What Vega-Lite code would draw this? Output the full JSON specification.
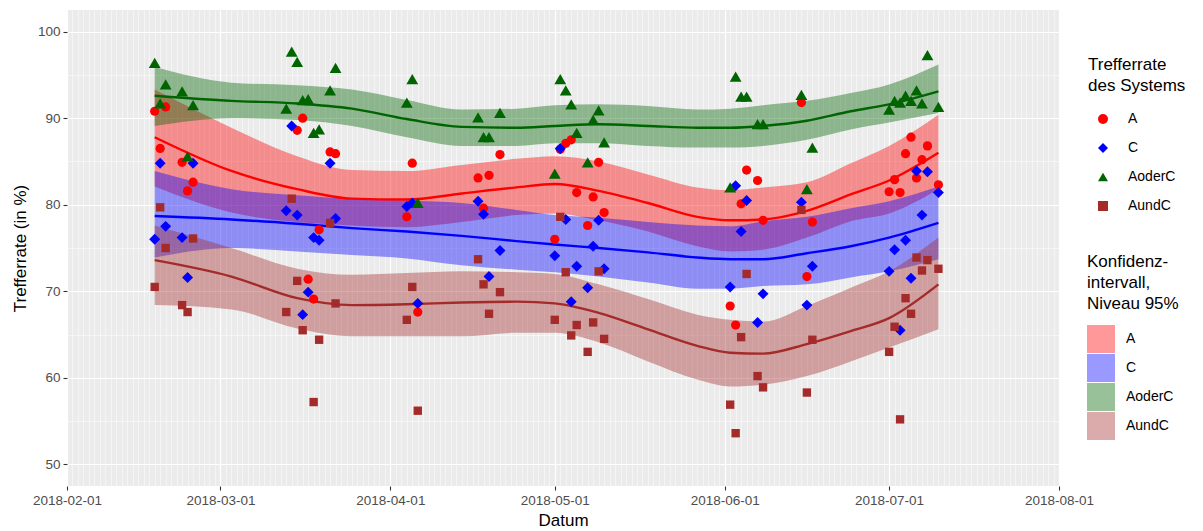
{
  "$schema": "https://vega.github.io/schema/vega-lite/v6.json",
  "width": 992,
  "height": 476,
  "autosize": {"type": "none"},
  "padding": {"left": 67, "top": 10, "right": 144, "bottom": 45},
  "background": "white",
  "view": {"fill": "#EBEBEB", "stroke": null},
  "config": {
    "font": "Liberation Sans",
    "axis": {"labelFont": "Liberation Sans", "labelFontSize": 13.5, "labelColor": "#4D4D4D", "titleFont": "Liberation Sans", "titleFontSize": 17, "titleFontWeight": "normal", "titleColor": "#000000", "tickColor": "#333333", "tickSize": 4, "tickWidth": 1.1, "labelPadding": 3, "domain": false, "gridColor": "#FFFFFF"},
    "legend": {"labelFont": "Liberation Sans", "labelFontSize": 14, "labelColor": "#000000", "titleFont": "Liberation Sans", "titleFontSize": 17, "titleFontWeight": "normal", "titleColor": "#000000", "titleLineHeight": 21, "padding": 0}
  },
  "datasets": {
    "fit": [
      {"k": "A", "d": "2018-02-17", "f": 87.8, "l": 82.1, "h": 93.3},
      {"k": "A", "d": "2018-03-03", "f": 83.9, "l": 79.1, "h": 88.9},
      {"k": "A", "d": "2018-03-15", "f": 81.8, "l": 78.0, "h": 85.6},
      {"k": "A", "d": "2018-03-25", "f": 80.7, "l": 77.6, "h": 84.0},
      {"k": "A", "d": "2018-04-04", "f": 80.6, "l": 77.4, "h": 83.9},
      {"k": "A", "d": "2018-04-14", "f": 81.3, "l": 78.0, "h": 84.6},
      {"k": "A", "d": "2018-04-24", "f": 82.0, "l": 78.8, "h": 85.3},
      {"k": "A", "d": "2018-05-01", "f": 82.4, "l": 79.0, "h": 85.6},
      {"k": "A", "d": "2018-05-09", "f": 81.6, "l": 78.2, "h": 85.0},
      {"k": "A", "d": "2018-05-18", "f": 80.2, "l": 76.9, "h": 83.5},
      {"k": "A", "d": "2018-05-27", "f": 78.6, "l": 75.2, "h": 82.0},
      {"k": "A", "d": "2018-06-02", "f": 78.2, "l": 74.6, "h": 81.7},
      {"k": "A", "d": "2018-06-08", "f": 78.3, "l": 74.8, "h": 82.0},
      {"k": "A", "d": "2018-06-16", "f": 79.3, "l": 76.2, "h": 82.6},
      {"k": "A", "d": "2018-06-24", "f": 81.2, "l": 78.1, "h": 84.8},
      {"k": "A", "d": "2018-07-01", "f": 82.8, "l": 79.0, "h": 86.8},
      {"k": "A", "d": "2018-07-10", "f": 86.0, "l": 81.8, "h": 90.4},
      {"k": "C", "d": "2018-02-17", "f": 78.7, "l": 73.9, "h": 83.9},
      {"k": "C", "d": "2018-03-03", "f": 78.3, "l": 75.0, "h": 81.8},
      {"k": "C", "d": "2018-03-15", "f": 77.8, "l": 74.6, "h": 81.1},
      {"k": "C", "d": "2018-03-25", "f": 77.3, "l": 74.2, "h": 80.7},
      {"k": "C", "d": "2018-04-04", "f": 76.9, "l": 73.8, "h": 80.5},
      {"k": "C", "d": "2018-04-14", "f": 76.4, "l": 73.0, "h": 80.2},
      {"k": "C", "d": "2018-04-24", "f": 75.8, "l": 72.5, "h": 79.4},
      {"k": "C", "d": "2018-05-01", "f": 75.4, "l": 72.2, "h": 78.8},
      {"k": "C", "d": "2018-05-09", "f": 75.0, "l": 71.7, "h": 78.5},
      {"k": "C", "d": "2018-05-18", "f": 74.5, "l": 71.0, "h": 78.0},
      {"k": "C", "d": "2018-05-27", "f": 73.9, "l": 70.3, "h": 77.6},
      {"k": "C", "d": "2018-06-02", "f": 73.7, "l": 70.3, "h": 77.5},
      {"k": "C", "d": "2018-06-08", "f": 73.7, "l": 70.6, "h": 78.1},
      {"k": "C", "d": "2018-06-16", "f": 74.4, "l": 70.8, "h": 78.6},
      {"k": "C", "d": "2018-06-24", "f": 75.2, "l": 71.6, "h": 79.6},
      {"k": "C", "d": "2018-07-01", "f": 76.2, "l": 72.3, "h": 80.4},
      {"k": "C", "d": "2018-07-10", "f": 77.9, "l": 73.7, "h": 82.1},
      {"k": "AoderC", "d": "2018-02-17", "f": 92.6, "l": 89.1, "h": 95.9},
      {"k": "AoderC", "d": "2018-03-03", "f": 92.0, "l": 90.0, "h": 94.1},
      {"k": "AoderC", "d": "2018-03-15", "f": 91.7, "l": 89.8, "h": 93.8},
      {"k": "AoderC", "d": "2018-03-25", "f": 91.1, "l": 89.1, "h": 93.3},
      {"k": "AoderC", "d": "2018-04-04", "f": 89.9, "l": 87.8, "h": 92.1},
      {"k": "AoderC", "d": "2018-04-14", "f": 89.0, "l": 86.8, "h": 91.0},
      {"k": "AoderC", "d": "2018-04-24", "f": 88.9, "l": 86.8, "h": 91.1},
      {"k": "AoderC", "d": "2018-05-01", "f": 89.1, "l": 87.1, "h": 91.5},
      {"k": "AoderC", "d": "2018-05-09", "f": 89.3, "l": 87.1, "h": 91.6},
      {"k": "AoderC", "d": "2018-05-18", "f": 89.1, "l": 86.8, "h": 91.4},
      {"k": "AoderC", "d": "2018-05-27", "f": 88.9, "l": 86.6, "h": 91.0},
      {"k": "AoderC", "d": "2018-06-02", "f": 88.9, "l": 86.6, "h": 91.1},
      {"k": "AoderC", "d": "2018-06-08", "f": 89.1, "l": 86.8, "h": 91.5},
      {"k": "AoderC", "d": "2018-06-16", "f": 89.7, "l": 87.5, "h": 92.0},
      {"k": "AoderC", "d": "2018-06-24", "f": 90.8, "l": 88.7, "h": 92.9},
      {"k": "AoderC", "d": "2018-07-01", "f": 91.6, "l": 89.5, "h": 93.9},
      {"k": "AoderC", "d": "2018-07-10", "f": 93.1, "l": 90.6, "h": 96.2},
      {"k": "AundC", "d": "2018-02-17", "f": 73.6, "l": 68.4, "h": 77.6},
      {"k": "AundC", "d": "2018-03-03", "f": 71.7, "l": 67.9, "h": 75.0},
      {"k": "AundC", "d": "2018-03-15", "f": 69.2, "l": 65.7, "h": 72.6},
      {"k": "AundC", "d": "2018-03-25", "f": 68.4, "l": 64.8, "h": 71.9},
      {"k": "AundC", "d": "2018-04-04", "f": 68.5, "l": 64.8, "h": 72.1},
      {"k": "AundC", "d": "2018-04-14", "f": 68.7, "l": 64.8, "h": 72.3},
      {"k": "AundC", "d": "2018-04-24", "f": 68.8, "l": 65.2, "h": 72.2},
      {"k": "AundC", "d": "2018-05-01", "f": 68.6, "l": 65.2, "h": 72.0},
      {"k": "AundC", "d": "2018-05-09", "f": 67.5, "l": 64.1, "h": 70.8},
      {"k": "AundC", "d": "2018-05-18", "f": 65.6, "l": 61.9, "h": 69.1},
      {"k": "AundC", "d": "2018-05-27", "f": 63.7, "l": 59.8, "h": 67.3},
      {"k": "AundC", "d": "2018-06-02", "f": 62.9, "l": 59.0, "h": 66.7},
      {"k": "AundC", "d": "2018-06-08", "f": 62.8, "l": 59.2, "h": 66.5},
      {"k": "AundC", "d": "2018-06-16", "f": 63.9, "l": 60.2, "h": 68.3},
      {"k": "AundC", "d": "2018-06-24", "f": 65.4, "l": 61.9, "h": 70.4},
      {"k": "AundC", "d": "2018-07-01", "f": 66.9, "l": 63.5, "h": 72.3},
      {"k": "AundC", "d": "2018-07-10", "f": 70.8, "l": 65.6, "h": 76.2}
    ],
    "pts": [
      {"d": "2018-02-17", "s": "A", "v": 90.8}, {"d": "2018-02-18", "s": "A", "v": 86.5}, {"d": "2018-02-19", "s": "A", "v": 91.3},
      {"d": "2018-02-22", "s": "A", "v": 84.9}, {"d": "2018-02-23", "s": "A", "v": 81.6}, {"d": "2018-02-24", "s": "A", "v": 82.6},
      {"d": "2018-03-15", "s": "A", "v": 88.6}, {"d": "2018-03-16", "s": "A", "v": 90.0}, {"d": "2018-03-17", "s": "A", "v": 71.4},
      {"d": "2018-03-18", "s": "A", "v": 69.1}, {"d": "2018-03-19", "s": "A", "v": 77.1}, {"d": "2018-03-21", "s": "A", "v": 86.1},
      {"d": "2018-03-22", "s": "A", "v": 85.9}, {"d": "2018-04-04", "s": "A", "v": 78.6}, {"d": "2018-04-05", "s": "A", "v": 84.8},
      {"d": "2018-04-06", "s": "A", "v": 67.6}, {"d": "2018-04-17", "s": "A", "v": 83.1}, {"d": "2018-04-18", "s": "A", "v": 79.6},
      {"d": "2018-04-19", "s": "A", "v": 83.4}, {"d": "2018-04-21", "s": "A", "v": 85.8}, {"d": "2018-05-01", "s": "A", "v": 76.0},
      {"d": "2018-05-02", "s": "A", "v": 86.4}, {"d": "2018-05-03", "s": "A", "v": 87.1}, {"d": "2018-05-04", "s": "A", "v": 87.5},
      {"d": "2018-05-05", "s": "A", "v": 81.4}, {"d": "2018-05-07", "s": "A", "v": 77.6}, {"d": "2018-05-08", "s": "A", "v": 80.9},
      {"d": "2018-05-09", "s": "A", "v": 84.9}, {"d": "2018-05-10", "s": "A", "v": 79.1}, {"d": "2018-06-02", "s": "A", "v": 68.3},
      {"d": "2018-06-03", "s": "A", "v": 66.1}, {"d": "2018-06-04", "s": "A", "v": 80.1}, {"d": "2018-06-05", "s": "A", "v": 84.0},
      {"d": "2018-06-07", "s": "A", "v": 82.8}, {"d": "2018-06-08", "s": "A", "v": 78.2}, {"d": "2018-06-15", "s": "A", "v": 91.8},
      {"d": "2018-06-16", "s": "A", "v": 71.7}, {"d": "2018-06-17", "s": "A", "v": 78.0}, {"d": "2018-07-01", "s": "A", "v": 81.5},
      {"d": "2018-07-02", "s": "A", "v": 82.9}, {"d": "2018-07-03", "s": "A", "v": 81.4}, {"d": "2018-07-04", "s": "A", "v": 85.9},
      {"d": "2018-07-05", "s": "A", "v": 87.8}, {"d": "2018-07-06", "s": "A", "v": 83.1}, {"d": "2018-07-07", "s": "A", "v": 85.2},
      {"d": "2018-07-08", "s": "A", "v": 86.8}, {"d": "2018-07-10", "s": "A", "v": 82.3},
      {"d": "2018-02-17", "s": "C", "v": 76.0}, {"d": "2018-02-18", "s": "C", "v": 84.8}, {"d": "2018-02-19", "s": "C", "v": 77.5},
      {"d": "2018-02-22", "s": "C", "v": 76.2}, {"d": "2018-02-23", "s": "C", "v": 71.6}, {"d": "2018-02-24", "s": "C", "v": 84.8},
      {"d": "2018-03-13", "s": "C", "v": 79.3}, {"d": "2018-03-14", "s": "C", "v": 89.1}, {"d": "2018-03-15", "s": "C", "v": 78.8},
      {"d": "2018-03-16", "s": "C", "v": 67.3}, {"d": "2018-03-17", "s": "C", "v": 69.9}, {"d": "2018-03-18", "s": "C", "v": 76.2},
      {"d": "2018-03-19", "s": "C", "v": 75.9}, {"d": "2018-03-21", "s": "C", "v": 84.8}, {"d": "2018-03-22", "s": "C", "v": 78.4},
      {"d": "2018-04-04", "s": "C", "v": 79.8}, {"d": "2018-04-05", "s": "C", "v": 80.2}, {"d": "2018-04-06", "s": "C", "v": 68.6},
      {"d": "2018-04-17", "s": "C", "v": 80.4}, {"d": "2018-04-18", "s": "C", "v": 78.9}, {"d": "2018-04-19", "s": "C", "v": 71.7},
      {"d": "2018-04-21", "s": "C", "v": 74.7}, {"d": "2018-05-01", "s": "C", "v": 74.1}, {"d": "2018-05-02", "s": "C", "v": 86.5},
      {"d": "2018-05-03", "s": "C", "v": 78.3}, {"d": "2018-05-04", "s": "C", "v": 68.8}, {"d": "2018-05-05", "s": "C", "v": 72.9},
      {"d": "2018-05-07", "s": "C", "v": 70.4}, {"d": "2018-05-08", "s": "C", "v": 75.2}, {"d": "2018-05-09", "s": "C", "v": 78.2},
      {"d": "2018-05-10", "s": "C", "v": 72.6}, {"d": "2018-06-02", "s": "C", "v": 70.5}, {"d": "2018-06-03", "s": "C", "v": 82.2},
      {"d": "2018-06-04", "s": "C", "v": 76.9}, {"d": "2018-06-05", "s": "C", "v": 80.5}, {"d": "2018-06-07", "s": "C", "v": 66.4},
      {"d": "2018-06-08", "s": "C", "v": 69.7}, {"d": "2018-06-15", "s": "C", "v": 80.3}, {"d": "2018-06-16", "s": "C", "v": 68.4},
      {"d": "2018-06-17", "s": "C", "v": 72.9}, {"d": "2018-07-01", "s": "C", "v": 72.3}, {"d": "2018-07-02", "s": "C", "v": 74.8},
      {"d": "2018-07-03", "s": "C", "v": 65.5}, {"d": "2018-07-04", "s": "C", "v": 75.9}, {"d": "2018-07-05", "s": "C", "v": 71.5},
      {"d": "2018-07-06", "s": "C", "v": 83.9}, {"d": "2018-07-07", "s": "C", "v": 78.8}, {"d": "2018-07-08", "s": "C", "v": 83.8},
      {"d": "2018-07-10", "s": "C", "v": 81.4},
      {"d": "2018-02-17", "s": "AoderC", "v": 96.4}, {"d": "2018-02-18", "s": "AoderC", "v": 91.7}, {"d": "2018-02-19", "s": "AoderC", "v": 93.9},
      {"d": "2018-02-22", "s": "AoderC", "v": 93.1}, {"d": "2018-02-23", "s": "AoderC", "v": 85.6}, {"d": "2018-02-24", "s": "AoderC", "v": 91.5},
      {"d": "2018-03-13", "s": "AoderC", "v": 91.1}, {"d": "2018-03-14", "s": "AoderC", "v": 97.7}, {"d": "2018-03-15", "s": "AoderC", "v": 96.5},
      {"d": "2018-03-16", "s": "AoderC", "v": 92.1}, {"d": "2018-03-17", "s": "AoderC", "v": 92.2}, {"d": "2018-03-18", "s": "AoderC", "v": 88.3},
      {"d": "2018-03-19", "s": "AoderC", "v": 88.7}, {"d": "2018-03-21", "s": "AoderC", "v": 93.2}, {"d": "2018-03-22", "s": "AoderC", "v": 95.8},
      {"d": "2018-04-04", "s": "AoderC", "v": 91.8}, {"d": "2018-04-05", "s": "AoderC", "v": 94.5}, {"d": "2018-04-06", "s": "AoderC", "v": 80.2},
      {"d": "2018-04-17", "s": "AoderC", "v": 90.1}, {"d": "2018-04-18", "s": "AoderC", "v": 87.8}, {"d": "2018-04-19", "s": "AoderC", "v": 87.8},
      {"d": "2018-04-21", "s": "AoderC", "v": 90.6}, {"d": "2018-05-01", "s": "AoderC", "v": 83.6}, {"d": "2018-05-02", "s": "AoderC", "v": 94.5},
      {"d": "2018-05-03", "s": "AoderC", "v": 93.2}, {"d": "2018-05-04", "s": "AoderC", "v": 91.6}, {"d": "2018-05-05", "s": "AoderC", "v": 88.3},
      {"d": "2018-05-07", "s": "AoderC", "v": 84.9}, {"d": "2018-05-08", "s": "AoderC", "v": 89.8}, {"d": "2018-05-09", "s": "AoderC", "v": 90.9},
      {"d": "2018-05-10", "s": "AoderC", "v": 87.2}, {"d": "2018-06-02", "s": "AoderC", "v": 82.0}, {"d": "2018-06-03", "s": "AoderC", "v": 94.8},
      {"d": "2018-06-04", "s": "AoderC", "v": 92.5}, {"d": "2018-06-05", "s": "AoderC", "v": 92.5}, {"d": "2018-06-07", "s": "AoderC", "v": 89.3},
      {"d": "2018-06-08", "s": "AoderC", "v": 89.3}, {"d": "2018-06-15", "s": "AoderC", "v": 92.7}, {"d": "2018-06-16", "s": "AoderC", "v": 81.8},
      {"d": "2018-06-17", "s": "AoderC", "v": 86.6}, {"d": "2018-07-01", "s": "AoderC", "v": 91.0}, {"d": "2018-07-02", "s": "AoderC", "v": 92.0},
      {"d": "2018-07-03", "s": "AoderC", "v": 91.8}, {"d": "2018-07-04", "s": "AoderC", "v": 92.6}, {"d": "2018-07-05", "s": "AoderC", "v": 92.0},
      {"d": "2018-07-06", "s": "AoderC", "v": 93.2}, {"d": "2018-07-07", "s": "AoderC", "v": 91.7}, {"d": "2018-07-08", "s": "AoderC", "v": 97.3},
      {"d": "2018-07-10", "s": "AoderC", "v": 91.3},
      {"d": "2018-02-17", "s": "AundC", "v": 70.5}, {"d": "2018-02-18", "s": "AundC", "v": 79.7}, {"d": "2018-02-19", "s": "AundC", "v": 75.0},
      {"d": "2018-02-22", "s": "AundC", "v": 68.4}, {"d": "2018-02-23", "s": "AundC", "v": 67.6}, {"d": "2018-02-24", "s": "AundC", "v": 76.1},
      {"d": "2018-03-13", "s": "AundC", "v": 67.6}, {"d": "2018-03-14", "s": "AundC", "v": 80.7}, {"d": "2018-03-15", "s": "AundC", "v": 71.2},
      {"d": "2018-03-16", "s": "AundC", "v": 65.5}, {"d": "2018-03-18", "s": "AundC", "v": 57.2}, {"d": "2018-03-19", "s": "AundC", "v": 64.4},
      {"d": "2018-03-21", "s": "AundC", "v": 77.9}, {"d": "2018-03-22", "s": "AundC", "v": 68.6}, {"d": "2018-04-04", "s": "AundC", "v": 66.7},
      {"d": "2018-04-05", "s": "AundC", "v": 70.5}, {"d": "2018-04-06", "s": "AundC", "v": 56.2}, {"d": "2018-04-17", "s": "AundC", "v": 73.7},
      {"d": "2018-04-18", "s": "AundC", "v": 70.8}, {"d": "2018-04-19", "s": "AundC", "v": 67.4}, {"d": "2018-04-21", "s": "AundC", "v": 69.9},
      {"d": "2018-05-01", "s": "AundC", "v": 66.7}, {"d": "2018-05-02", "s": "AundC", "v": 78.6}, {"d": "2018-05-03", "s": "AundC", "v": 72.2},
      {"d": "2018-05-04", "s": "AundC", "v": 64.9}, {"d": "2018-05-05", "s": "AundC", "v": 66.1}, {"d": "2018-05-07", "s": "AundC", "v": 63.0},
      {"d": "2018-05-08", "s": "AundC", "v": 66.4}, {"d": "2018-05-09", "s": "AundC", "v": 72.3}, {"d": "2018-05-10", "s": "AundC", "v": 64.5},
      {"d": "2018-06-02", "s": "AundC", "v": 56.9}, {"d": "2018-06-03", "s": "AundC", "v": 53.6}, {"d": "2018-06-04", "s": "AundC", "v": 64.7},
      {"d": "2018-06-05", "s": "AundC", "v": 72.0}, {"d": "2018-06-07", "s": "AundC", "v": 60.2}, {"d": "2018-06-08", "s": "AundC", "v": 58.9},
      {"d": "2018-06-15", "s": "AundC", "v": 79.4}, {"d": "2018-06-16", "s": "AundC", "v": 58.3}, {"d": "2018-06-17", "s": "AundC", "v": 64.4},
      {"d": "2018-07-01", "s": "AundC", "v": 63.0}, {"d": "2018-07-02", "s": "AundC", "v": 65.9}, {"d": "2018-07-03", "s": "AundC", "v": 55.2},
      {"d": "2018-07-04", "s": "AundC", "v": 69.2}, {"d": "2018-07-05", "s": "AundC", "v": 67.4}, {"d": "2018-07-06", "s": "AundC", "v": 73.9},
      {"d": "2018-07-07", "s": "AundC", "v": 72.4}, {"d": "2018-07-08", "s": "AundC", "v": 73.6}, {"d": "2018-07-10", "s": "AundC", "v": 72.6}
    ]
  },
  "layer": [
    {
      "data": {"name": "fit"},
      "mark": {"type": "area", "interpolate": "monotone", "fillOpacity": 0.4},
      "encoding": {
        "x": {
          "field": "d", "type": "temporal", "title": "Datum",
          "scale": {"type": "utc", "nice": false, "domain": [{"year": 2018, "month": 2, "date": 1, "utc": true}, {"year": 2018, "month": 8, "date": 1, "utc": true}]},
          "axis": {
            "tickCount": {"interval": "day", "step": 1},
            "labelExpr": "utcdate(datum.value) == 1 ? utcFormat(datum.value, '%Y-%m-%d') : ''",
            "labelOverlap": false, "labelFlush": false, "labelBound": false,
            "grid": true,
            "gridWidth": {"condition": {"test": "utcdate(datum.value) == 1", "value": 1.2}, "value": 0.5},
            "tickOpacity": {"condition": {"test": "utcdate(datum.value) == 1", "value": 1}, "value": 0},
            "titlePadding": 6
          }
        },
        "y": {
          "field": "l", "type": "quantitative", "title": "Trefferrate (in %)",
          "scale": {"domain": [47.5, 102.5], "nice": false, "zero": false},
          "axis": {
            "values": [50, 55, 60, 65, 70, 75, 80, 85, 90, 95, 100],
            "labelExpr": "datum.value % 10 == 0 ? datum.label : ''",
            "grid": true,
            "gridWidth": {"condition": {"test": "datum.value % 10 == 0", "value": 1.2}, "value": 0.5},
            "tickOpacity": {"condition": {"test": "datum.value % 10 == 0", "value": 1}, "value": 0},
            "titlePadding": 8
          }
        },
        "y2": {"field": "h"},
        "fill": {
          "field": "k", "type": "nominal",
          "sort": ["A", "C", "AoderC", "AundC"],
          "scale": {"range": ["#FF0000", "#0000FF", "#006400", "#A52A2A"]},
          "legend": {"title": ["Konfidenz-", "intervall,", "Niveau 95%"], "orient": "none", "legendX": 1020, "legendY": 244, "symbolType": "square", "symbolSize": 784, "symbolOpacity": 0.4, "symbolStrokeWidth": 0, "rowPadding": 1, "labelOffset": 11, "titlePadding": 12}
        }
      }
    },
    {
      "data": {"name": "fit"},
      "mark": {"type": "line", "interpolate": "monotone", "strokeWidth": 2.4},
      "encoding": {
        "x": {"field": "d", "type": "temporal", "title": "Datum"},
        "y": {"field": "f", "type": "quantitative", "title": "Trefferrate (in %)"},
        "stroke": {
          "field": "k", "type": "nominal",
          "sort": ["A", "C", "AoderC", "AundC"],
          "scale": {"range": ["#FF0000", "#0000FF", "#006400", "#A52A2A"]},
          "legend": null
        }
      }
    },
    {
      "data": {"name": "pts"},
      "mark": {"type": "point", "filled": true, "opacity": 1},
      "encoding": {
        "x": {"field": "d", "type": "temporal", "title": "Datum"},
        "y": {"field": "v", "type": "quantitative", "title": "Trefferrate (in %)"},
        "color": {
          "field": "s", "type": "nominal",
          "scale": {"domain": ["A", "C", "AoderC", "AundC"], "range": ["#FF0000", "#0000FF", "#006400", "#A52A2A"]},
          "legend": {"title": ["Trefferrate", "des Systems"], "orient": "none", "legendX": 1021, "legendY": 47, "symbolOffset": 8, "labelOffset": 18, "rowPadding": 15, "titlePadding": 17, "symbolSize": 100}
        },
        "shape": {
          "field": "s", "type": "nominal",
          "scale": {"domain": ["A", "C", "AoderC", "AundC"], "range": ["circle", "diamond", "triangle-up", "square"]},
          "legend": {"title": ["Trefferrate", "des Systems"], "orient": "none", "legendX": 1021, "legendY": 47, "symbolOffset": 8, "labelOffset": 18, "rowPadding": 15, "titlePadding": 17, "symbolSize": 100}
        },
        "size": {
          "condition": [
            {"test": "datum.s == 'A'", "value": 85},
            {"test": "datum.s == 'C'", "value": 120},
            {"test": "datum.s == 'AoderC'", "value": 140}
          ],
          "value": 70
        }
      }
    }
  ]
}
